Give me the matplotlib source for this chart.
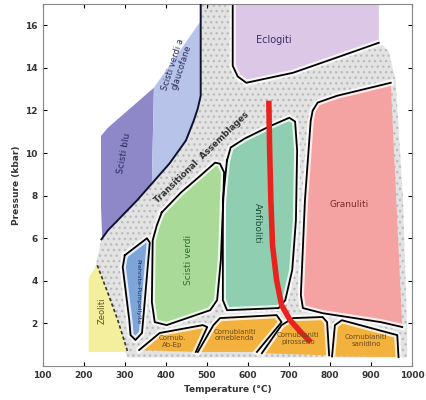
import matplotlib
matplotlib.use("Agg")
import matplotlib.pyplot as plt
from matplotlib.patches import Polygon

# metamorphic facies fields, vertices as (temperature degC, pressure kbar)
ECLOGITI_T = [563, 563, 575, 596, 710, 829, 919, 919]
ECLOGITI_P = [17.0, 14.1, 13.6, 13.3, 13.77, 14.57, 15.18, 17.0]

BLU_T = [242, 259, 371, 366, 330, 259, 245, 242]
BLU_P = [10.8, 11.19, 13.07, 8.57, 7.78, 6.37, 6.0, 7.5]

GLAUCO_T = [371, 485, 485, 468, 449, 409, 366]
GLAUCO_P = [13.07, 16.2, 12.69, 11.52, 10.59, 9.51, 8.57]

BOUNDARY_T = [485, 485, 478, 468, 449, 409, 330, 259, 243]
BOUNDARY_P = [17.0, 12.69, 12.1, 11.52, 10.59, 9.51, 7.78, 6.37, 5.95]

VERDI_T = [390, 437, 485, 520, 532, 542, 540, 534, 525, 508, 402, 373, 366, 368, 378]
VERDI_P = [7.21, 8.15, 8.95, 9.55, 9.5, 9.1, 7.8, 4.96, 3.09, 2.62, 1.92, 2.06, 3.0, 5.9, 6.6]

ANFIB_T = [549, 558, 592, 651, 701, 715, 720, 717, 708, 691, 675, 549, 539, 539]
ANFIB_P = [9.65, 10.26, 10.68, 11.24, 11.66, 11.48, 10.12, 6.84, 4.5, 3.09, 2.72, 2.62, 3.09, 7.78]

GRANUL_T = [948, 817, 770, 758, 753, 739, 729, 734, 782, 924, 976]
GRANUL_P = [13.3, 12.69, 12.37, 12.0, 11.52, 7.78, 3.33, 2.72, 2.48, 2.06, 1.83]

PREHNITE_T = [300, 354, 361, 342, 326, 314, 311, 295]
PREHNITE_P = [5.2, 6.0, 5.8, 1.55, 1.22, 1.45, 2.15, 4.64]

ZEOL_T = [212, 212, 224, 233, 259, 283, 302, 307]
ZEOL_P = [0.66, 4.12, 4.5, 4.73, 3.42, 2.15, 0.98, 0.66]

CORN1_T = [335, 385, 490, 501, 473]
CORN1_P = [0.75, 1.55, 1.92, 1.83, 0.66]
CORN2_T = [478, 516, 532, 670, 682, 622]
CORN2_P = [0.66, 1.92, 2.25, 2.39, 2.06, 0.66]
CORN3_T = [634, 682, 710, 782, 793, 798]
CORN3_P = [0.6, 1.92, 2.25, 2.3, 2.06, 0.5]
CORN4_T = [805, 812, 829, 964, 967]
CORN4_P = [0.45, 1.92, 2.15, 1.45, 0.42]

TRANS_T = [243, 330, 409, 449, 468, 485, 485, 563, 563, 596, 710, 829, 919,
           943, 960, 978, 988, 988, 307, 225]
TRANS_P = [5.95, 7.78, 9.51, 10.59, 11.52, 12.69, 17.0, 17.0, 14.1, 13.3, 13.77,
           14.57, 15.18, 14.8, 13.4, 7.8, 1.7, 0.4, 0.4, 4.3]

# P-T path
PATH_T = [651, 653, 656, 660, 670, 682, 703, 729, 753]
PATH_P = [12.46, 10.12, 7.78, 5.67, 4.03, 2.86, 2.15, 1.59, 1.12]

fig = plt.figure(figsize=(4.27, 4.0), dpi=100)
ax = fig.add_axes([0.10, 0.085, 0.865, 0.905])
ax.set_xlim(100, 1000)
ax.set_ylim(0, 17)

# transitional assemblages (stippled grey)
ax.add_patch(Polygon(list(zip(TRANS_T, TRANS_P)), closed=True, facecolor="#e3e3e3",
                     edgecolor="#bcbcbc", lw=0, hatch="...", zorder=1))


def field(T, P, color, outline="closed", zorder=2):
    ax.add_patch(Polygon(list(zip(T, P)), closed=True, facecolor=color, lw=0, zorder=zorder))
    if outline is None:
        return
    if outline == "closed":
        xs, ys = T + T[:1], P + P[:1]
    else:
        xs, ys = T[:outline], P[:outline]
    ax.plot(xs, ys, color="white", lw=4.5, alpha=0.8, zorder=zorder + 0.1, solid_joinstyle="round")
    ax.plot(xs, ys, color="black", lw=1.3, zorder=zorder + 0.2, solid_joinstyle="round")


field(ECLOGITI_T, ECLOGITI_P, "#dcc7e6", outline=7)
field(BLU_T, BLU_P, "#8e88c8", outline=None)
field(GLAUCO_T, GLAUCO_P, "#b7c3e8", outline=None)
ax.plot(BOUNDARY_T, BOUNDARY_P, color="#111133", lw=1.4, zorder=3)
field(VERDI_T, VERDI_P, "#a9da98")
field(ANFIB_T, ANFIB_P, "#8fceb0")
field(GRANUL_T, GRANUL_P, "#f5a2a2", outline=len(GRANUL_T))
field(PREHNITE_T, PREHNITE_P, "#7ea5da")
field(ZEOL_T, ZEOL_P, "#f4ef9c", outline=None)
ax.plot(ZEOL_T[3:], ZEOL_P[3:], color="#333333", lw=1.2, ls=(0, (2, 1.5)), zorder=3)
for cT, cP in [(CORN1_T, CORN1_P), (CORN2_T, CORN2_P), (CORN3_T, CORN3_P), (CORN4_T, CORN4_P)]:
    field(cT, cP, "#f3b23e", outline=len(cT))

ax.plot(PATH_T, PATH_P, color="#e8231f", lw=4, solid_capstyle="butt", zorder=6)

# labels
ax.text(663, 15.3, "Eclogiti", fontsize=7, color="#3a2d6a", ha="center", va="center", zorder=7)
ax.text(428, 14.1, "Scisti verdi a\nglaucofane", fontsize=6, color="#2a2a5a", rotation=72,
        ha="center", va="center", linespacing=1.0, zorder=7)
ax.text(298, 10.0, "Scisti blu", fontsize=6.5, color="#2a2a5a", rotation=80,
        ha="center", va="center", zorder=7)
ax.text(487, 9.8, "Transitional  Assemblages", fontsize=6.2, color="#333333", rotation=44,
        ha="center", va="center", fontweight="bold", zorder=7)
ax.text(456, 5.0, "Scisti verdi", fontsize=6.5, color="#2e6b2e", rotation=90,
        ha="center", va="center", zorder=7)
ax.text(622, 6.7, "Anfiboliti", fontsize=6.5, color="#1f4d3a", rotation=-90,
        ha="center", va="center", zorder=7)
ax.text(846, 7.6, "Granuliti", fontsize=6.5, color="#7a2a2a", ha="center", va="center", zorder=7)
ax.text(331, 3.5, "Prehnite-Pumpellyite", fontsize=4.5, color="#1c2c55", rotation=-90,
        ha="center", va="center", zorder=7)
ax.text(244, 2.6, "Zeoliti", fontsize=6, color="#5a5320", rotation=90,
        ha="center", va="center", zorder=7)
for t, p, s in [(415, 1.15, "Cornub.\nAb-Ep"), (568, 1.45, "Cornubianiti\norneblenda"),
                (722, 1.3, "Cornubianiti\npirosseno"), (888, 1.2, "Cornubianiti\nsanidino")]:
    ax.text(t, p, s, fontsize=5, color="#6b4a1a", ha="center", va="center",
            linespacing=1.1, zorder=7)

ax.set_xticks(range(100, 1001, 100))
ax.set_yticks([2, 4, 6, 8, 10, 12, 14, 16])
ax.tick_params(direction="in", top=True, right=True, labelsize=6.5, length=3, width=0.8)
for lab in ax.get_xticklabels() + ax.get_yticklabels():
    lab.set_fontweight("bold")
    lab.set_color("#333333")
ax.set_xlabel("Temperature (°C)", fontsize=6.5, fontweight="bold", color="#333333", labelpad=4)
ax.set_ylabel("Pressure (kbar)", fontsize=6.5, fontweight="bold", color="#333333", labelpad=3)
for s in ax.spines.values():
    s.set_color("#888888")
    s.set_linewidth(0.8)

fig.savefig("out.png", dpi=100)
